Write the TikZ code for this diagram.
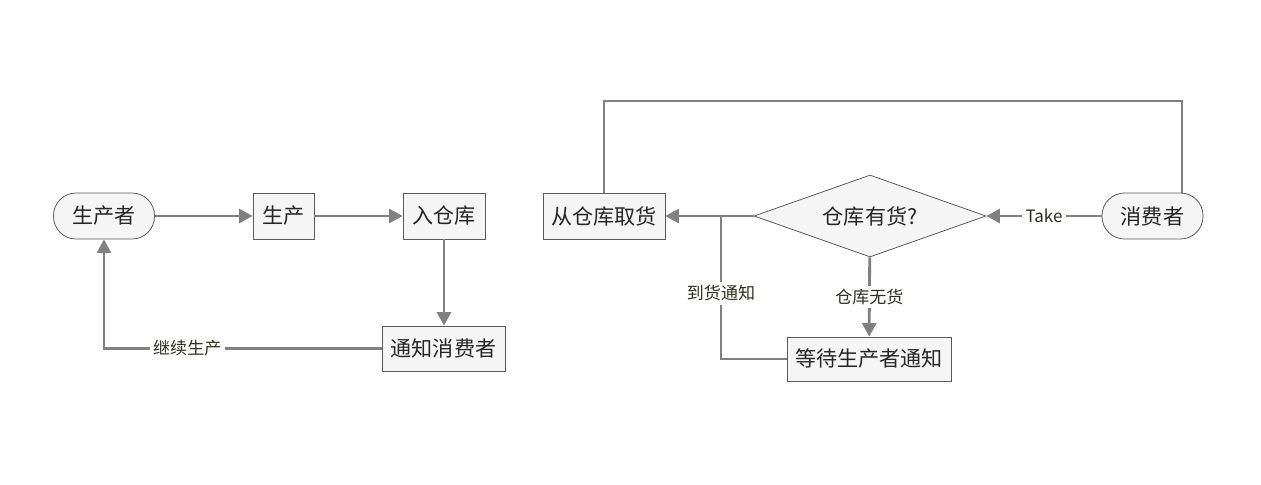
\documentclass[tikz,border=0pt]{standalone}
\usepackage{fontspec}
\setmainfont{Noto Sans CJK SC}
\usetikzlibrary{shapes.geometric,arrows.meta}

\definecolor{linegray}{HTML}{808080}
\definecolor{boxfill}{HTML}{F5F5F5}
\definecolor{boxline}{HTML}{5A5A5A}
\definecolor{lbltext}{HTML}{2E2E22}

\tikzset{
    box/.style={draw=boxline, fill=boxfill, line width=0.45pt, minimum height=0.92cm, inner sep=2pt, text=black!85, font=\fontsize{12}{14}\selectfont},
    term/.style={box, rounded corners=0.45cm},
    link/.style={draw=linegray, line width=1.6pt},
    arr/.style={link, -{Triangle[length=0.27cm,width=0.28cm]}},
    lbl/.style={fill=white, text=lbltext, inner sep=2pt, font=\fontsize{9.7}{11}\selectfont}
}

\begin{document}
\begin{tikzpicture}[x=0.02cm,y=-0.02cm]
        \useasboundingbox (0,0) rectangle (1261,484);

        \node[term, minimum width=2.02cm](producer) at (104,216){生产者};
        \node[box, minimum width=1.22cm](make) at (283.5,216){生产};
        \node[box, minimum width=1.64cm](store) at (444,216){入仓库};
        \node[box, minimum width=2.46cm, minimum height=0.9cm](notify) at (443.5,348.5){通知消费者};

        \draw[arr](producer)--(make);
        \draw[arr](make)--(store);
        \draw[arr](store.south)--(store.south |- notify.north);
        \draw[arr](notify.west)-|node[lbl, pos=0.35]{继续生产}(producer.south);

        \node[box, minimum width=2.44cm](fetch) at (604,216){从仓库取货};
        \node[box, diamond, aspect=2.8, inner sep=0pt, minimum width=4.64cm, minimum height=1.64cm](check) at (870,216){仓库有货?};
        \node[term, minimum width=2.02cm](consumer) at (1152.5,216){消费者};
        \node[box, minimum width=3.28cm, minimum height=0.88cm](wait) at (869,359){等待生产者通知};

        \coordinate(join) at (721,216);
        \coordinate(top) at (1182,101);

        \draw[arr](consumer)--node[lbl]{Take}(check);
        \draw[arr](check)--(fetch);
        \draw[arr](check)--node[lbl]{仓库无货}(wait);
        \draw[link](wait.west)-|node[lbl, pos=0.73]{到货通知}(join);
        \draw[link](fetch.north)|-(top)--(top |- consumer.north);

    \end{tikzpicture}
\end{document}
